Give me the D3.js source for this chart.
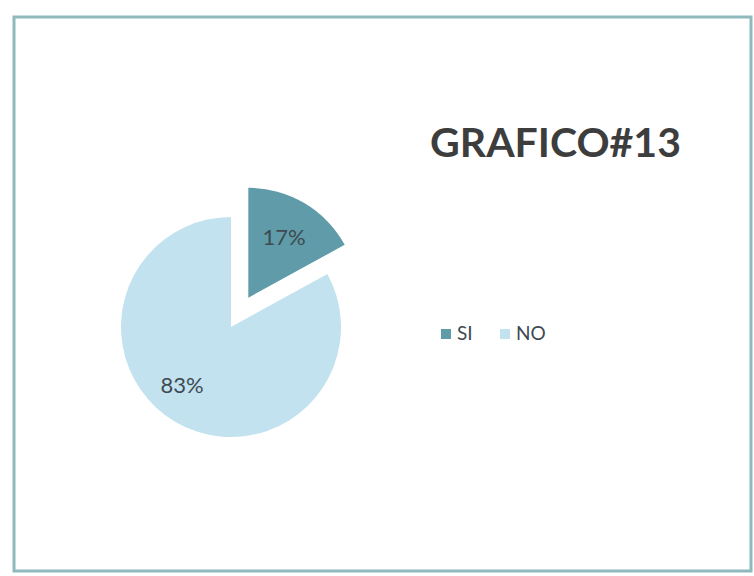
<!DOCTYPE html>
<html>
<head>
<meta charset="utf-8">
<script src="https://cdn.jsdelivr.net/npm/d3@7"></script>
<style>
  html, body { margin: 0; padding: 0; background: #ffffff; }
  svg { display: block; }
</style>
</head>
<body>
<svg id="chart" width="754" height="576"></svg>
<script>
const categories = ["SI", "NO"];
const values = [17, 83];
const labels = ["17%", "83%"];
const colors = ["#5f9ba8", "#c3e2ef"];
const title = "GRAFICO#13";

const svg = d3.select("#chart");

// frame
svg.append("rect")
  .attr("x", 14).attr("y", 17).attr("width", 737).attr("height", 554)
  .attr("fill", "#ffffff")
  .attr("stroke", "#8fb9bd").attr("stroke-width", 3);

const cx = 231, cy = 327, r = 110, explode = 34;

const pie = d3.pie().sort(null).value(d => d);
const arcs = pie(values);
const arc = d3.arc().innerRadius(0).outerRadius(r);

const g = svg.append("g").attr("transform", `translate(${cx},${cy})`);

arcs.forEach((a, i) => {
  const mid = (a.startAngle + a.endAngle) / 2;
  const off = i === 0 ? explode : 0;
  const dx = Math.sin(mid) * off, dy = -Math.cos(mid) * off;
  const sg = g.append("g").attr("transform", `translate(${dx},${dy})`);
  sg.append("path").attr("d", arc(a)).attr("fill", colors[i]);
});

// data labels
const labelPos = [[284, 236], [182, 384]];
labels.forEach((t, i) => {
  svg.append("text")
    .attr("x", labelPos[i][0]).attr("y", labelPos[i][1])
    .attr("text-anchor", "middle").attr("dominant-baseline", "central")
    .attr("font-family", "Lato, 'Open Sans', sans-serif")
    .attr("font-size", 22)
    .attr("fill", "#3e4a52")
    .text(t);
});

// title
svg.append("text")
  .attr("x", 430).attr("y", 157)
  .attr("font-family", "Lato, 'Open Sans', sans-serif")
  .attr("font-weight", "bold")
  .attr("font-size", 41)
  .attr("fill", "#3d3d3d")
  .text(title);

// legend
const legendX = [441, 500];
categories.forEach((c, i) => {
  svg.append("rect")
    .attr("x", legendX[i]).attr("y", 329).attr("width", 10).attr("height", 10)
    .attr("fill", colors[i]);
  svg.append("text")
    .attr("x", legendX[i] + 16).attr("y", 340)
    .attr("font-family", "Lato, 'Open Sans', sans-serif")
    .attr("font-size", 19)
    .attr("fill", "#3e4a52")
    .text(c);
});
</script>
</body>
</html>
